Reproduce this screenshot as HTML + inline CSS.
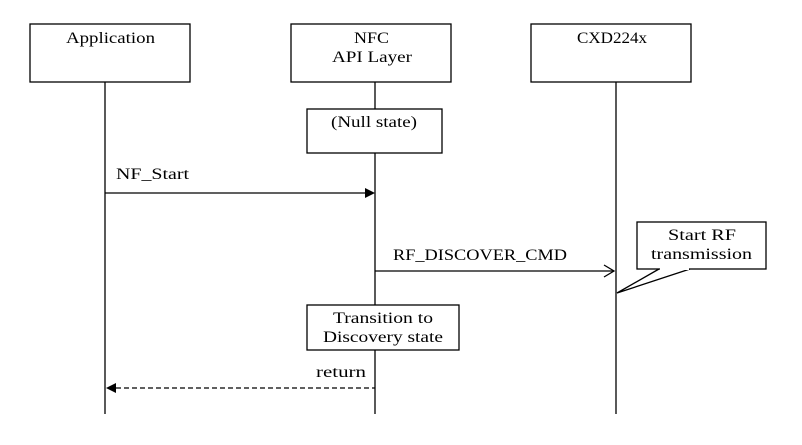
<!DOCTYPE html>
<html><head><style>body{margin:0;background:#fff}</style></head><body>
<svg width="802" height="440" xmlns="http://www.w3.org/2000/svg" font-family="Liberation Serif, serif" font-size="16" fill="#000">
<rect width="802" height="440" fill="#fff"/>
<g stroke="#000" stroke-width="1.3" fill="#fff">
<line x1="105" y1="82" x2="105" y2="414"/>
<line x1="375" y1="82" x2="375" y2="414"/>
<line x1="616" y1="82" x2="616" y2="414"/>
<rect x="30" y="24" width="160" height="58"/>
<rect x="291" y="24" width="160" height="58"/>
<rect x="531" y="24" width="160" height="58"/>
<rect x="307" y="109" width="135" height="44"/>
<rect x="307" y="305" width="152" height="45"/>
<line x1="105" y1="193" x2="366" y2="193"/>
<line x1="375" y1="271" x2="614" y2="271"/>
<polyline points="604,265 614,271 604,277" fill="none"/>
<line x1="116" y1="388" x2="375" y2="388" stroke-dasharray="5,3"/>
<rect x="637" y="222" width="129" height="47"/>
<polyline points="659,269 617,293 690,269" fill="none"/>
<line x1="660" y1="269" x2="689" y2="269" stroke="#fff" stroke-width="2"/>
</g>
<polygon points="375,193 365,188 365,198"/>
<polygon points="106,388 116,383 116,393"/>
<g lengthAdjust="spacingAndGlyphs">
<text x="66" y="43" textLength="89" lengthAdjust="spacingAndGlyphs">Application</text>
<text x="354" y="43" textLength="35" lengthAdjust="spacingAndGlyphs">NFC</text>
<text x="332" y="62" textLength="80" lengthAdjust="spacingAndGlyphs">API Layer</text>
<text x="577" y="43" textLength="70" lengthAdjust="spacingAndGlyphs">CXD224x</text>
<text x="331" y="127" textLength="86" lengthAdjust="spacingAndGlyphs">(Null state)</text>
<text x="333" y="323" textLength="100" lengthAdjust="spacingAndGlyphs">Transition to</text>
<text x="323" y="342" textLength="120" lengthAdjust="spacingAndGlyphs">Discovery state</text>
<text x="668" y="240" textLength="68" lengthAdjust="spacingAndGlyphs">Start RF</text>
<text x="651" y="259" textLength="101" lengthAdjust="spacingAndGlyphs">transmission</text>
<text x="116" y="179" textLength="73" lengthAdjust="spacingAndGlyphs">NF_Start</text>
<text x="393" y="260" textLength="174" lengthAdjust="spacingAndGlyphs">RF_DISCOVER_CMD</text>
<text x="316" y="377" textLength="50" lengthAdjust="spacingAndGlyphs">return</text>
</g>
</svg>
</body></html>
